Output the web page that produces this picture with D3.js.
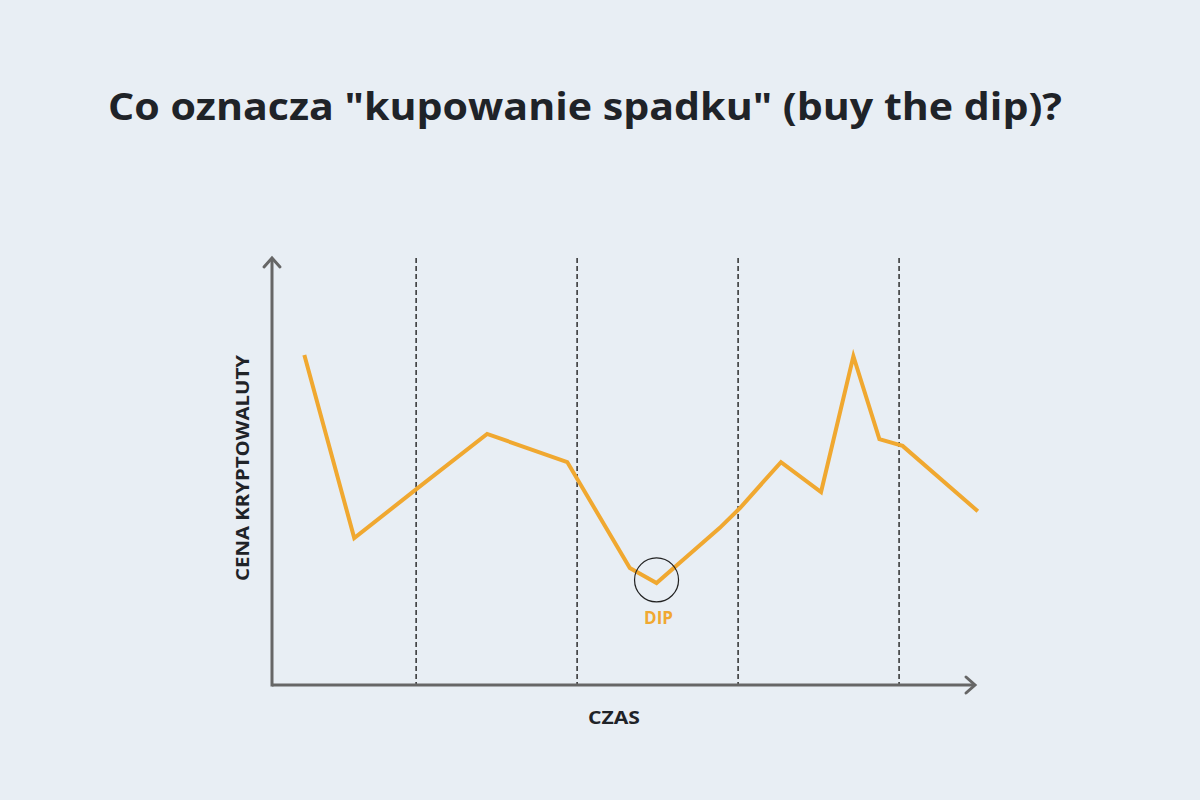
<!DOCTYPE html>
<html lang="pl">
<head>
<meta charset="UTF-8">
<script src="https://d3js.org/d3.v7.min.js"></script>
<style>
  body { margin: 0; background: #e8eef4; }
</style>
</head>
<body>
<script>
// data
const times  = [4.6, 11.7, 20.4, 30.6, 42, 50.9, 54.7, 63.7, 66.6, 72.4, 78.1, 82.7, 86.4, 89.7, 100.4]
const prices = [77.3, 34.4, 45.7, 58.8, 52.2, 27.4, 23.9, 36.8, 41.5, 52.2, 45.2, 77, 57.6, 56, 40.7]
const dividers = [20.5, 43.4, 66.3, 89.2]
const dipIndex = 6

const width = 1200, height = 800
const svg = d3.select("body").append("svg")
  .attr("width", width).attr("height", height)
  .style("display", "block")

svg.append("rect").attr("width", width).attr("height", height).attr("fill", "#e8eef4")

const x = d3.scaleLinear().domain([0, 100]).range([272, 975])
const y = d3.scaleLinear().domain([0, 100]).range([685, 258])

// title
svg.append("text")
  .attr("x", 108).attr("y", 120)
  .attr("font-family", "Open Sans, sans-serif")
  .attr("font-weight", 700).attr("font-size", 38)
  .attr("textLength", 954).attr("lengthAdjust", "spacingAndGlyphs")
  .attr("fill", "#1f2328")
  .text('Co oznacza "kupowanie spadku" (buy the dip)?')

// dashed dividers
svg.selectAll("line.div").data(dividers).join("line")
  .attr("x1", d => x(d)).attr("x2", d => x(d))
  .attr("y1", y(100)).attr("y2", y(0))
  .attr("stroke", "#111").attr("stroke-width", 1.3)
  .attr("stroke-dasharray", "5,3")

// axes
const axisColor = "#666"
svg.append("line").attr("x1", x(0)).attr("x2", x(100) - 2).attr("y1", y(0)).attr("y2", y(0))
  .attr("stroke", axisColor).attr("stroke-width", 3)
svg.append("line").attr("x1", x(0)).attr("x2", x(0)).attr("y1", y(0) + 1.5).attr("y2", y(100) + 2)
  .attr("stroke", axisColor).attr("stroke-width", 3)
svg.append("path")
  .attr("d", `M${x(100) - 9},${y(0) - 8} L${x(100)},${y(0)} L${x(100) - 9},${y(0) + 8}`)
  .attr("fill", "none").attr("stroke", axisColor).attr("stroke-width", 3).attr("stroke-linecap", "round")
svg.append("path")
  .attr("d", `M${x(0) - 8},${y(100) + 9} L${x(0)},${y(100)} L${x(0) + 8},${y(100) + 9}`)
  .attr("fill", "none").attr("stroke", axisColor).attr("stroke-width", 3).attr("stroke-linecap", "round")

// price line
const pts = times.map((t, i) => [t, prices[i]])
svg.append("path").datum(pts)
  .attr("d", d3.line().x(d => x(d[0])).y(d => y(d[1])))
  .attr("fill", "none").attr("stroke", "#f0a830").attr("stroke-width", 4)
  .attr("stroke-linejoin", "miter")

// dip marker
svg.append("circle")
  .attr("cx", x(times[dipIndex])).attr("cy", y(prices[dipIndex]) - 3).attr("r", 22)
  .attr("fill", "none").attr("stroke", "#222").attr("stroke-width", 1.2)
svg.append("text")
  .attr("x", x(times[dipIndex]) + 2).attr("y", y(prices[dipIndex]) + 41)
  .attr("text-anchor", "middle")
  .attr("font-family", "Open Sans, sans-serif").attr("font-weight", 700).attr("font-size", 17)
  .attr("fill", "#f0a830").text("DIP")

// axis labels
svg.append("text")
  .attr("x", 614).attr("y", 724).attr("text-anchor", "middle")
  .attr("font-family", "Open Sans, sans-serif").attr("font-weight", 700).attr("font-size", 17)
  .attr("textLength", 52).attr("lengthAdjust", "spacingAndGlyphs")
  .attr("fill", "#1f2328").text("CZAS")
svg.append("text")
  .attr("transform", "translate(249,468) rotate(-90)").attr("text-anchor", "middle")
  .attr("font-family", "Open Sans, sans-serif").attr("font-weight", 700).attr("font-size", 17)
  .attr("textLength", 226).attr("lengthAdjust", "spacingAndGlyphs")
  .attr("fill", "#1f2328").text("CENA KRYPTOWALUTY")
</script>
</body>
</html>
